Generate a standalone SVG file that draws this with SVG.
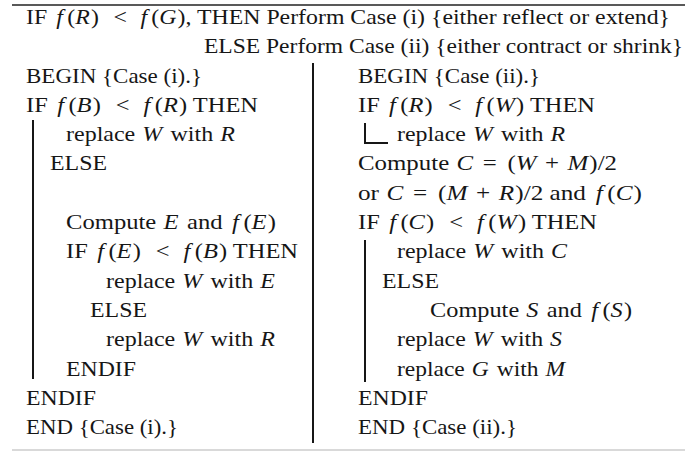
<svg xmlns="http://www.w3.org/2000/svg" width="685" height="453" viewBox="0 0 685 453">
<style>
text{font-family:"Liberation Serif","Times New Roman",serif;font-size:22px;fill:#161616}
.i{font-style:italic}
.bar{stroke:#161616;stroke-width:2;fill:none}
</style>
<rect width="685" height="453" fill="#fff"/>
<line x1="12" y1="5" x2="685" y2="5" stroke="#222" stroke-width="1.5"/>
<line x1="12" y1="450" x2="685" y2="450" stroke="#ccc" stroke-width="1.5"/>
<line class="bar" x1="313" y1="63" x2="313" y2="443"/>
<g id="header">
<text x="26" y="24" textLength="644" lengthAdjust="spacingAndGlyphs">IF <tspan class="i" dx="3">f</tspan><tspan dx="4">(</tspan><tspan class="i">R</tspan><tspan dx="1">)</tspan> <tspan dx="8">&lt;</tspan> <tspan class="i" dx="7">f</tspan><tspan dx="4">(</tspan><tspan class="i">G</tspan><tspan dx="1">),</tspan> THEN Perform Case (i) {either reflect or extend}</text>
<text x="204" y="53" textLength="479" lengthAdjust="spacingAndGlyphs">ELSE Perform Case (ii) {either contract or shrink}</text>
</g>
<g id="case-i">
<text x="26" y="83" textLength="176" lengthAdjust="spacingAndGlyphs">BEGIN {Case (i).}</text>
<text x="26" y="112" textLength="232" lengthAdjust="spacingAndGlyphs">IF <tspan class="i" dx="3">f</tspan><tspan dx="4">(</tspan><tspan class="i">B</tspan><tspan dx="1">)</tspan> <tspan dx="8">&lt;</tspan> <tspan class="i" dx="7">f</tspan><tspan dx="4">(</tspan><tspan class="i">R</tspan><tspan dx="1">)</tspan> THEN</text>
<text x="66" y="141" textLength="169" lengthAdjust="spacingAndGlyphs">replace <tspan class="i" dx="1">W</tspan><tspan dx="2"> with</tspan> <tspan class="i" dx="1">R</tspan></text>
<text x="50" y="170" textLength="57" lengthAdjust="spacingAndGlyphs">ELSE</text>
<text x="66" y="229" textLength="210" lengthAdjust="spacingAndGlyphs">Compute <tspan class="i" dx="1">E</tspan><tspan dx="2"> and</tspan> <tspan class="i" dx="3">f</tspan><tspan dx="4">(</tspan><tspan class="i">E</tspan><tspan dx="1">)</tspan></text>
<text x="66" y="258" textLength="232" lengthAdjust="spacingAndGlyphs">IF <tspan class="i" dx="3">f</tspan><tspan dx="4">(</tspan><tspan class="i">E</tspan><tspan dx="1">)</tspan> <tspan dx="8">&lt;</tspan> <tspan class="i" dx="7">f</tspan><tspan dx="4">(</tspan><tspan class="i">B</tspan><tspan dx="1">)</tspan> THEN</text>
<text x="106" y="288" textLength="169" lengthAdjust="spacingAndGlyphs">replace <tspan class="i" dx="1">W</tspan><tspan dx="2"> with</tspan> <tspan class="i" dx="1">E</tspan></text>
<text x="90" y="317" textLength="57" lengthAdjust="spacingAndGlyphs">ELSE</text>
<text x="106" y="346" textLength="169" lengthAdjust="spacingAndGlyphs">replace <tspan class="i" dx="1">W</tspan><tspan dx="2"> with</tspan> <tspan class="i" dx="1">R</tspan></text>
<text x="66" y="376" textLength="70" lengthAdjust="spacingAndGlyphs">ENDIF</text>
<text x="26" y="405" textLength="70" lengthAdjust="spacingAndGlyphs">ENDIF</text>
<text x="26" y="434" textLength="152" lengthAdjust="spacingAndGlyphs">END {Case (i).}</text>
<line class="bar" x1="33" y1="120" x2="33" y2="379"/>
</g>
<g id="case-ii">
<text x="358" y="83" textLength="182" lengthAdjust="spacingAndGlyphs">BEGIN {Case (ii).}</text>
<text x="358" y="112" textLength="237" lengthAdjust="spacingAndGlyphs">IF <tspan class="i" dx="3">f</tspan><tspan dx="4">(</tspan><tspan class="i">R</tspan><tspan dx="1">)</tspan> <tspan dx="8">&lt;</tspan> <tspan class="i" dx="7">f</tspan><tspan dx="4">(</tspan><tspan class="i">W</tspan><tspan dx="1">)</tspan> THEN</text>
<path class="bar" d="M365 123V143H388"/>
<text x="397" y="141" textLength="168" lengthAdjust="spacingAndGlyphs">replace <tspan class="i" dx="1">W</tspan><tspan dx="2"> with</tspan> <tspan class="i" dx="1">R</tspan></text>
<text x="358" y="170" textLength="259" lengthAdjust="spacingAndGlyphs">Compute <tspan class="i" dx="1">C</tspan> <tspan dx="3">=</tspan> <tspan dx="4">(</tspan><tspan class="i">W</tspan> <tspan dx="2">+</tspan> <tspan class="i" dx="2">M</tspan><tspan dx="1">)/2</tspan></text>
<text x="358" y="200" textLength="284" lengthAdjust="spacingAndGlyphs">or <tspan class="i" dx="1">C</tspan> <tspan dx="3">=</tspan> <tspan dx="4">(</tspan><tspan class="i">M</tspan> <tspan dx="2">+</tspan> <tspan class="i" dx="2">R</tspan><tspan dx="1">)/2 and</tspan> <tspan class="i" dx="3">f</tspan><tspan dx="4">(</tspan><tspan class="i">C</tspan><tspan dx="1">)</tspan></text>
<text x="358" y="229" textLength="239" lengthAdjust="spacingAndGlyphs">IF <tspan class="i" dx="3">f</tspan><tspan dx="4">(</tspan><tspan class="i">C</tspan><tspan dx="1">)</tspan> <tspan dx="8">&lt;</tspan> <tspan class="i" dx="7">f</tspan><tspan dx="4">(</tspan><tspan class="i">W</tspan><tspan dx="1">)</tspan> THEN</text>
<text x="397" y="258" textLength="170" lengthAdjust="spacingAndGlyphs">replace <tspan class="i" dx="1">W</tspan><tspan dx="2"> with</tspan> <tspan class="i" dx="1">C</tspan></text>
<text x="382" y="288" textLength="57" lengthAdjust="spacingAndGlyphs">ELSE</text>
<text x="430" y="317" textLength="202" lengthAdjust="spacingAndGlyphs">Compute <tspan class="i" dx="1">S</tspan><tspan dx="2"> and</tspan> <tspan class="i" dx="3">f</tspan><tspan dx="4">(</tspan><tspan class="i">S</tspan><tspan dx="1">)</tspan></text>
<text x="397" y="346" textLength="165" lengthAdjust="spacingAndGlyphs">replace <tspan class="i" dx="1">W</tspan><tspan dx="2"> with</tspan> <tspan class="i" dx="1">S</tspan></text>
<text x="397" y="376" textLength="168" lengthAdjust="spacingAndGlyphs">replace <tspan class="i" dx="1">G</tspan><tspan dx="2"> with</tspan> <tspan class="i" dx="1">M</tspan></text>
<text x="358" y="405" textLength="70" lengthAdjust="spacingAndGlyphs">ENDIF</text>
<text x="358" y="434" textLength="159" lengthAdjust="spacingAndGlyphs">END {Case (ii).}</text>
<line class="bar" x1="365" y1="240" x2="365" y2="382"/>
</g>
</svg>
